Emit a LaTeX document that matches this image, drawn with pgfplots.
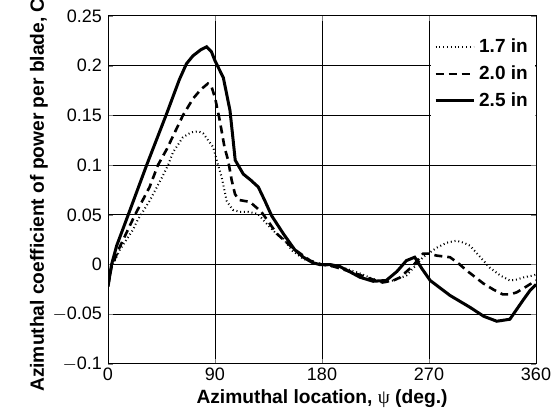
\documentclass[border=0pt]{standalone}
\usepackage{fontspec}
\setmainfont{Liberation Sans}
\newfontfamily\symfont{Liberation Serif}
\usepackage{pgfplots}
\pgfplotsset{compat=1.18}
\usetikzlibrary{calc}
\begin{document}
\begin{tikzpicture}
\begin{axis}[
  scale only axis, width=214pt, height=174pt,
  xmin=0, xmax=360, ymin=-0.1, ymax=0.25,
  xtick={0,90,180,270,360},
  ytick={-0.1,-0.05,0,0.05,0.1,0.15,0.2,0.25},
  yticklabels={$-$0.1,$-$0.05,0,0.05,0.1,0.15,0.2,0.25},
  scaled y ticks=false,
  /pgf/number format/assume math mode=true,
  tick label style={font=\fontsize{9}{9}\selectfont},
  yticklabel style={xshift=0.5pt},
  xticklabel style={yshift=1.5pt},
  grid=major, grid style={black, line width=0.5pt},
  tick align=inside, major tick length=2.5pt,
  axis line style={line width=0.5pt},
  xlabel={\bfseries Azimuthal location, {\symfont\mdseries ψ} (deg.)},
  ylabel={\bfseries Azimuthal coefficient of power per blade, C$_{\mathbf P}$},
  label style={font=\fontsize{9.6}{10}\selectfont},
  xlabel style={yshift=2.5pt},
  ylabel style={yshift=-4.5pt},
  legend style={at={(0.998,0.956)}, anchor=north east, draw=none, fill=white,
    font=\bfseries\fontsize{9.5}{10}\selectfont, inner sep=1.5pt, row sep=1pt},
  legend cell align=left,
  legend image code/.code={\draw[#1] (0pt,0pt) -- (19pt,0pt);},
]
\addplot[black, line width=1pt, dash pattern=on 0.5pt off 1.4pt] coordinates {
(0,-0.022) (3,-0.003) (10,0.015) (21,0.035) (25,0.045) (35,0.064) (46.4,0.090) (50.5,0.100)
(54.7,0.113) (63,0.128) (70,0.133) (76,0.134) (80,0.132) (88.5,0.118) (92.6,0.100)
(95.6,0.088) (99.8,0.064) (105,0.055) (111,0.053) (118,0.053) (126,0.051) (133.5,0.041)
(140,0.033) (147.5,0.026) (155,0.014) (164,0.006) (172,0.002) (180,0) (192,-0.002)
(200,-0.004) (212,-0.009) (222,-0.014) (231,-0.018) (240,-0.016) (251,-0.011)
(258,-0.002) (265,0.0074) (276.5,0.017) (285,0.022) (293,0.024) (299,0.022)
(304.5,0.019) (312,0.009) (321,-0.003) (330,-0.011) (338,-0.016) (344,-0.015)
(349,-0.013) (357.6,-0.011) (360,-0.010)
};
\addlegendentry{1.7 in}
\addplot[black, line width=1.3pt, dash pattern=on 4pt off 2.5pt] coordinates {
(0,-0.022) (3,-0.002) (10,0.018) (22.7,0.050) (35,0.078) (42,0.100) (49.4,0.116)
(63,0.150) (71.6,0.167) (78,0.176) (84,0.182) (87,0.179) (90,0.168) (94,0.145)
(98,0.118) (101,0.105) (104,0.085) (106.8,0.071) (110,0.065) (119.4,0.063)
(129,0.053) (135,0.043) (142,0.031) (156,0.016) (170,0.004) (180,0) (190,-0.002)
(206,-0.008) (220,-0.014) (231,-0.018) (240,-0.016) (245.6,-0.013) (256.7,-0.001)
(265,0.011) (270,0.011) (276.5,0.009) (287.6,0.0074) (294,0.002) (301.7,-0.006)
(315.7,-0.019) (324,-0.025) (332,-0.030) (338,-0.030) (343.7,-0.028) (352,-0.022)
(360,-0.016)
};
\addlegendentry{2.0 in}
\addplot[black, line width=1.5pt] coordinates {
(0,-0.022) (3,0.0) (7.3,0.019) (17,0.050) (32.5,0.100) (49.4,0.152) (60,0.186)
(66,0.202) (71.5,0.210) (78,0.216) (83,0.219) (87,0.214) (90,0.205) (97,0.188)
(102.6,0.155) (105,0.128) (107,0.105) (113.8,0.091) (120,0.085) (126.4,0.078)
(132,0.064) (137.7,0.049) (147.5,0.031) (157,0.015) (164.3,0.0074) (172,0.002)
(178,0) (187,0.0) (195,-0.002) (203,-0.007) (212,-0.0128) (223,-0.0168) (234,-0.016)
(243,-0.007) (251,0.004) (258,0.0074) (264,-0.004) (271,-0.016) (287.6,-0.031)
(304.5,-0.043) (316,-0.052) (327,-0.057) (338,-0.055) (349,-0.036) (355,-0.026)
(360,-0.020)
};
\addlegendentry{2.5 in}
\end{axis}
\pgfresetboundingbox
\path ($(current axis.south west)+(-54pt,-23pt)$) rectangle ($(current axis.north east)+(9.5pt,8pt)$);
\end{tikzpicture}
\end{document}
